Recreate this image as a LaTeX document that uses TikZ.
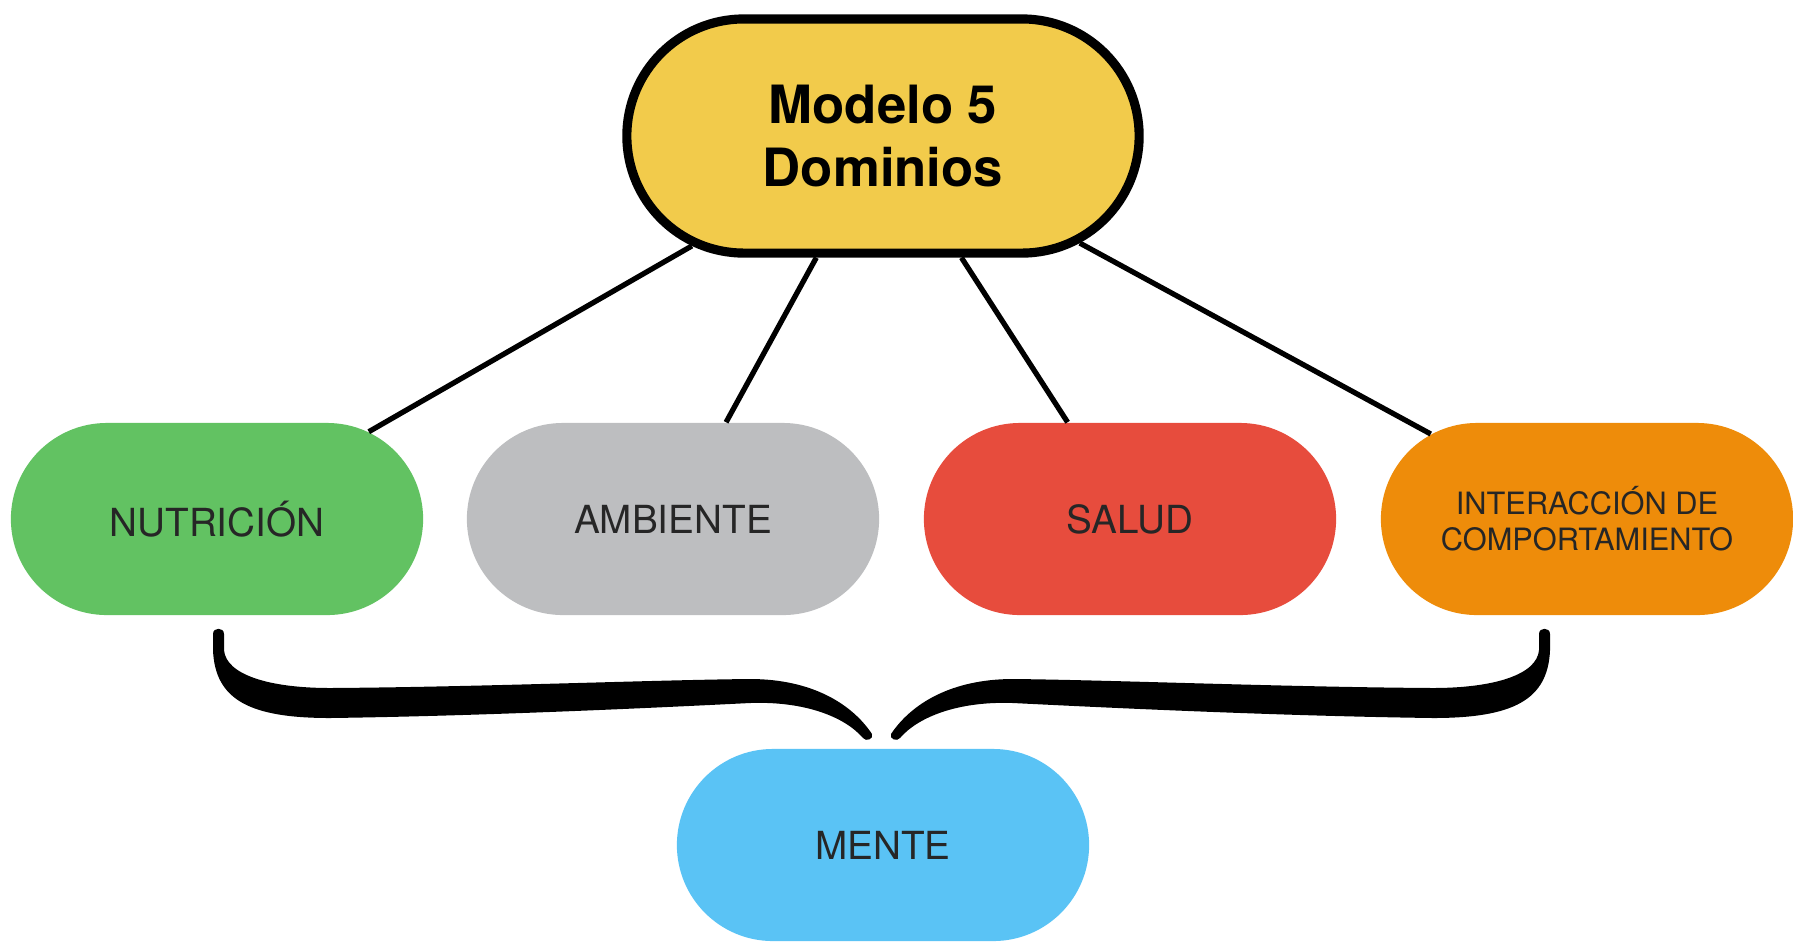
\documentclass[tikz,border=0pt]{standalone}
\usepackage{fontspec}
\setmainfont{TeX Gyre Heros}
\usetikzlibrary{shapes.misc}
\definecolor{cyellow}{HTML}{F2CB4B}
\definecolor{cgreen}{HTML}{62C262}
\definecolor{cgray}{HTML}{BDBEC0}
\definecolor{cred}{HTML}{E74C3D}
\definecolor{corange}{HTML}{EE8C0A}
\definecolor{cblue}{HTML}{5AC3F5}
% one half of the curly brace, pixel units
\newcommand{\halfbrace}{(213,634) -- (213,650) .. controls (215,700) and (250,718) .. (330,718)
  .. controls (480,716) and (650,708) .. (750,703)
  .. controls (805,701) and (845,717) .. (863,738)
  .. controls (866,742) and (874,739) .. (872,734)
  .. controls (852,704) and (812,679) .. (750,679)
  .. controls (650,680) and (480,687) .. (330,688)
  .. controls (270,688) and (226,675) .. (224,650) -- (224,634)
  .. controls (224,627) and (213,627) .. (213,634) -- cycle}

\begin{document}
\begin{tikzpicture}[
		x=0.01cm, y=-0.01cm,
		dombox/.style={rounded rectangle, inner sep=0pt,
		minimum width=4.12cm, minimum height=1.92cm, text=black!85,
		font=\fontsize{11}{13}\selectfont},
		mainbox/.style={rounded rectangle, draw=black, line width=2.6pt,
		fill=cyellow, inner sep=0pt, minimum width=5.12cm, minimum height=2.34cm,
		align=center, font=\fontsize{15}{18}\selectfont\bfseries},
		link/.style={draw=black, line width=1.5pt}
		]
		\useasboundingbox (0,0) rectangle (1793,941);
		\node[mainbox] (modelo) at (883,136) {Modelo 5\\Dominios};
		\node[dombox, fill=cgreen] (nutricion) at (217,519) {NUTRICIÓN};
		\node[dombox, fill=cgray] (ambiente) at (673,519) {AMBIENTE};
		\node[dombox, fill=cred] (salud) at (1130,519) {SALUD};
		\node[dombox, fill=corange, align=center,
			font=\fontsize{8.75}{10.2}\selectfont] (interaccion) at (1587,519)
			{INTERACCIÓN DE\\COMPORTAMIENTO};
		\node[dombox, fill=cblue] (mente) at (883,845) {MENTE};
		\draw[link] (modelo) -- (nutricion);
		\draw[link] (modelo) -- (ambiente);
		\draw[link] (modelo) -- (salud);
		\draw[link] (modelo) -- (interaccion);
		% brace
		\fill[black] \halfbrace;
		\begin{scope}[xshift=17.62cm, xscale=-1]
			\fill[black] \halfbrace;
		\end{scope}
	\end{tikzpicture}
\end{document}
